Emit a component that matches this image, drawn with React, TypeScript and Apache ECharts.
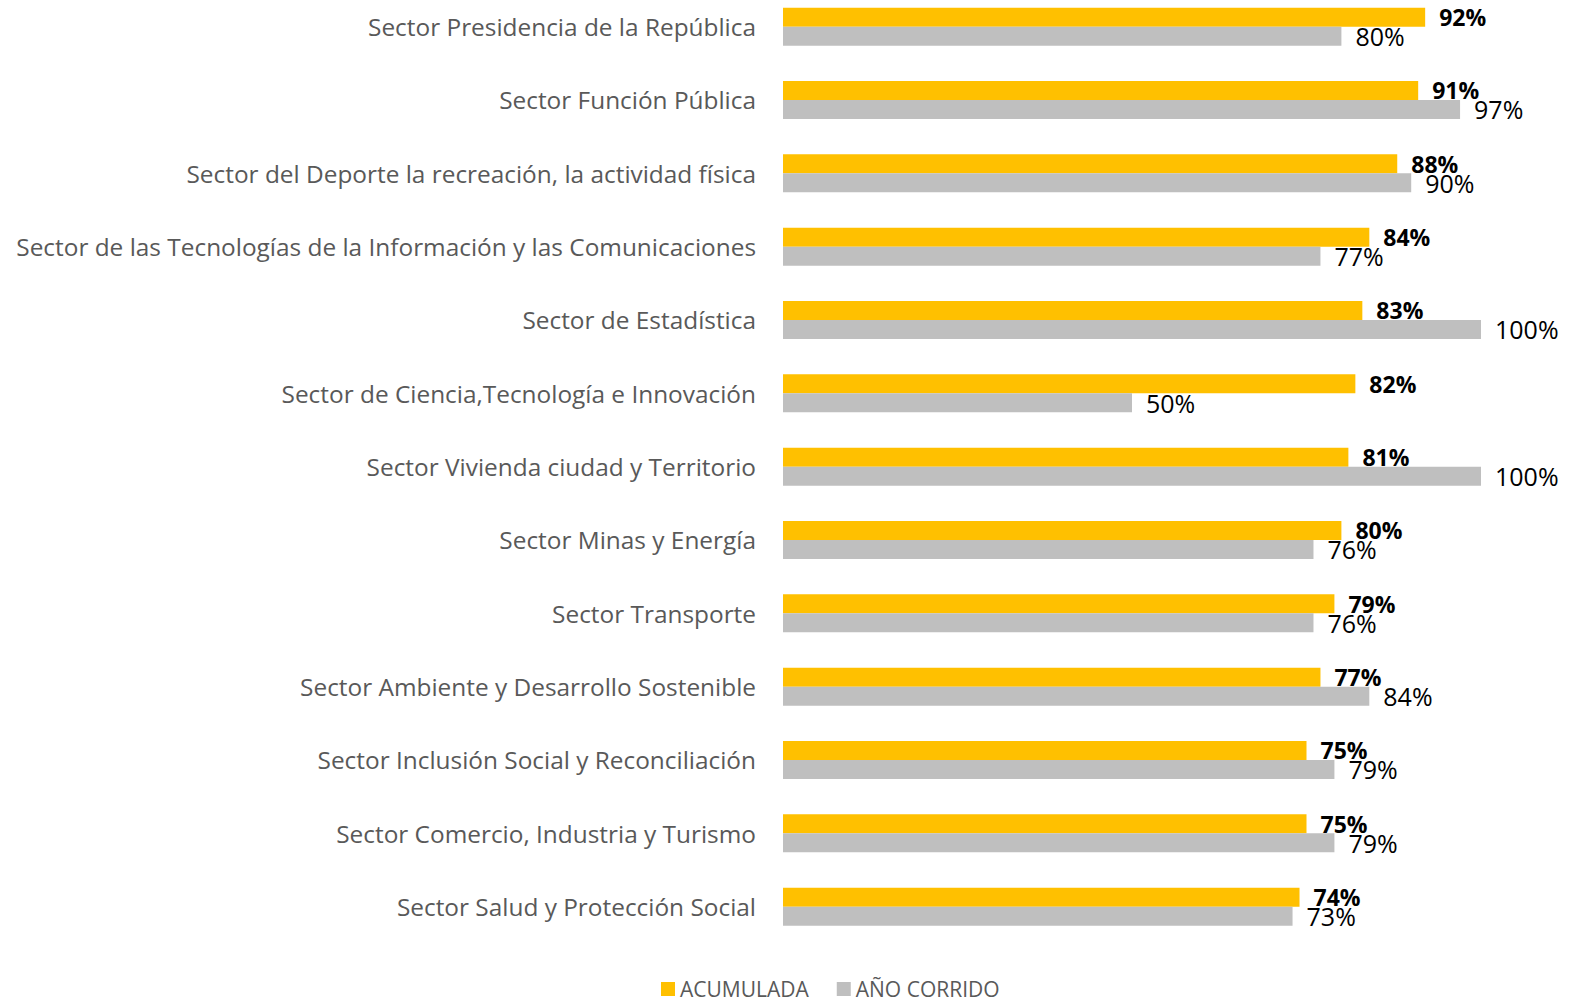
import React, { useEffect, useRef } from "react";
import * as echarts from "echarts";

const categories = [
  "Sector Presidencia de la República",
  "Sector Función Pública",
  "Sector del Deporte la recreación, la actividad física",
  "Sector de las Tecnologías de la Información y las Comunicaciones",
  "Sector de Estadística",
  "Sector de Ciencia,Tecnología e Innovación",
  "Sector Vivienda ciudad y Territorio",
  "Sector Minas y Energía",
  "Sector Transporte",
  "Sector Ambiente y Desarrollo Sostenible",
  "Sector Inclusión Social y Reconciliación",
  "Sector Comercio, Industria y Turismo",
  "Sector Salud y Protección Social",
];
const acumulada = [92, 91, 88, 84, 83, 82, 81, 80, 79, 77, 75, 75, 74];
const anoCorrido = [80, 97, 90, 77, 100, 50, 100, 76, 76, 84, 79, 79, 73];

const FONT = "'Open Sans', sans-serif";

export default function App() {
  const ref = useRef<HTMLDivElement>(null);
  useEffect(() => {
    if (!ref.current) return;
    const chart = echarts.init(ref.current, null, { renderer: "svg" });
    chart.setOption({
      animation: false,
      backgroundColor: "#ffffff",
      textStyle: { fontFamily: FONT },
      legend: {
        bottom: -4,
        left: 656,
        itemWidth: 14,
        itemHeight: 14,
        itemGap: 28,
        icon: "rect",
        textStyle: { fontSize: 21, lineHeight: 24, color: "#595959", fontFamily: FONT },
        data: ["ACUMULADA", "AÑO CORRIDO"],
      },
      grid: { left: 783, right: 94, top: 0, height: 953.3, containLabel: false },
      xAxis: {
        type: "value",
        min: 0,
        max: 100,
        show: false,
      },
      yAxis: {
        type: "category",
        inverse: true,
        data: categories,
        axisLine: { show: false },
        axisTick: { show: false },
        axisLabel: { fontSize: 24.4, color: "#595959", margin: 27, fontFamily: FONT },
      },
      series: [
        {
          name: "ACUMULADA",
          type: "bar",
          data: acumulada,
          barWidth: 19,
          barGap: "0%",
          itemStyle: { color: "#FFC000" },
          label: {
            show: true,
            position: "right",
            distance: 14,
            formatter: "{c}%",
            fontSize: 23,
            fontWeight: "bold",
            color: "#000000",
            fontFamily: FONT,
          },
        },
        {
          name: "AÑO CORRIDO",
          type: "bar",
          data: anoCorrido,
          barWidth: 19,
          barGap: "0%",
          itemStyle: { color: "#BFBFBF" },
          label: {
            show: true,
            position: "right",
            distance: 14,
            formatter: "{c}%",
            fontSize: 25,
            color: "#000000",
            fontFamily: FONT,
          },
        },
      ],
    });
    return () => chart.dispose();
  }, []);
  return (
    <div
      ref={ref}
      style={{ width: 1575, height: 1012, position: "absolute", left: 0, top: -10 }}
    />
  );
}
